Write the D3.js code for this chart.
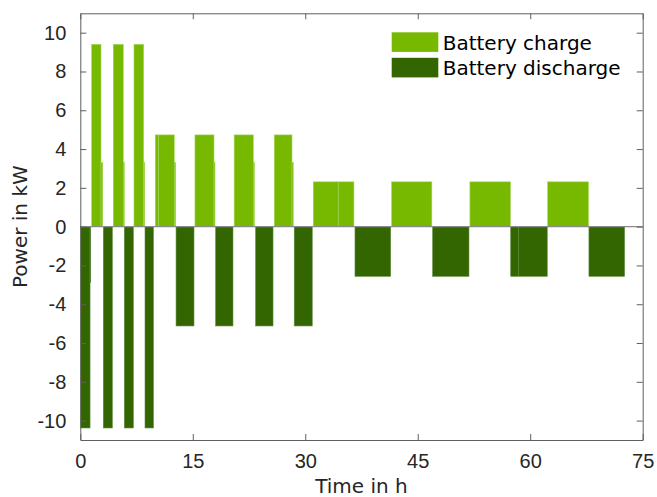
<!DOCTYPE html>
<html>
<head>
<meta charset="utf-8">
<script src="https://cdn.jsdelivr.net/npm/d3@7"></script>
<style>
  body { margin: 0; background: #fff; }
  svg { display: block; font-family: "DejaVu Sans", sans-serif; }
</style>
</head>
<body>
<svg id="chart" width="657" height="497"></svg>
<script>
// step segments: [start h, end h, kW]
const chargeSteps = [
    [1.52, 2.76, 9.4], [2.76, 2.99, 3.3],
    [4.4, 5.73, 9.4], [5.73, 5.87, 3.3],
    [7.16, 8.45, 9.4], [8.45, 8.59, 3.3],
    [10.0, 10.45, 4.73], [10.45, 12.53, 4.73], [12.53, 12.72, 3.3],
    [15.29, 17.83, 4.73], [17.83, 17.96, 3.3],
    [20.52, 23.07, 4.73], [23.07, 23.22, 3.3],
    [25.87, 28.23, 4.73], [28.23, 28.4, 3.3],
    [31.07, 34.4, 2.31], [34.4, 36.49, 2.31],
    [41.52, 46.88, 2.31],
    [51.96, 57.36, 2.31],
    [62.33, 67.77, 2.31]
];
const dischargeSteps = [
    [0.05, 1.3, -10.38], [1.3, 1.39, -2.87],
    [3.07, 4.27, -10.38],
    [5.87, 7.07, -10.38],
    [8.63, 9.75, -10.38],
    [12.77, 15.16, -5.12],
    [18.05, 20.36, -5.12],
    [23.38, 25.7, -5.12],
    [28.53, 30.93, -5.12],
    [36.63, 41.39, -2.56],
    [46.99, 51.83, -2.56],
    [57.4, 58.43, -2.56], [58.43, 62.27, -2.56],
    [67.83, 72.58, -2.56]
];
const seriesNames = ["Battery charge", "Battery discharge"];
const xTicks = [0, 15, 30, 45, 60, 75];
const yTicks = [-10, -8, -6, -4, -2, 0, 2, 4, 6, 8, 10];

const colours = { charge: "#77b800", discharge: "#336600" };
const edges = { charge: "#a3d65a", discharge: "#5b8a3c" };

const svg = d3.select("#chart");
const axisColour = "#5f5f5f";
const textColour = "#262626";

const x = d3.scaleLinear().domain([0, 75]).range([80.3, 642.7]);
const y = d3.scaleLinear().domain([-11, 11]).range([440, 13.3]);

const drawSteps = (steps, key) => {
    svg.append("g").selectAll("rect")
        .data(steps)
        .join("rect")
        .attr("x", d => x(d[0]))
        .attr("width", d => x(d[1]) - x(d[0]))
        .attr("y", d => y(Math.max(0, d[2])))
        .attr("height", d => Math.abs(y(d[2]) - y(0)))
        .attr("fill", colours[key])
        .attr("stroke", edges[key])
        .attr("stroke-width", 0.6);
};
drawSteps(chargeSteps, "charge");
drawSteps(dischargeSteps, "discharge");

// bar baseline
svg.append("line")
    .attr("x1", x(0)).attr("x2", x(75))
    .attr("y1", y(0)).attr("y2", y(0))
    .attr("stroke", "#8a8a8a")
    .attr("stroke-width", 1.2);

// axes with inward ticks, boxed
const tickLen = 6;
const styleAxis = (g) => {
    g.select(".domain").attr("stroke", axisColour);
    g.selectAll(".tick line").attr("stroke", axisColour);
    g.selectAll(".tick text").attr("fill", textColour).style("font-size", "20px");
};

svg.append("g")
    .attr("transform", `translate(0,${y(-11)})`)
    .call(d3.axisBottom(x).tickValues(xTicks).tickSizeInner(-tickLen).tickSizeOuter(0).tickPadding(14))
    .call(styleAxis)
    .call(g => g.selectAll(".tick text").attr("dy", "0.71em"));

svg.append("g")
    .attr("transform", `translate(0,${y(11)})`)
    .call(d3.axisTop(x).tickValues(xTicks).tickSizeInner(-tickLen).tickSizeOuter(0).tickFormat(""))
    .call(styleAxis);

svg.append("g")
    .attr("transform", `translate(${x(0)},0)`)
    .call(d3.axisLeft(y).tickValues(yTicks).tickSizeInner(-tickLen).tickSizeOuter(0).tickPadding(14)
        .tickFormat(d => String(d)))
    .call(styleAxis);

svg.append("g")
    .attr("transform", `translate(${x(75)},0)`)
    .call(d3.axisRight(y).tickValues(yTicks).tickSizeInner(-tickLen).tickSizeOuter(0).tickFormat(""))
    .call(styleAxis);

// axis titles
svg.append("text")
    .attr("x", (x(0) + x(75)) / 2)
    .attr("y", 492.5)
    .attr("text-anchor", "middle")
    .attr("fill", textColour)
    .style("font-size", "20px")
    .text("Time in h");

svg.append("text")
    .attr("transform", `translate(27,${y(0)}) rotate(-90)`)
    .attr("text-anchor", "middle")
    .attr("fill", textColour)
    .style("font-size", "20px")
    .text("Power in kW");

// legend
const legend = svg.append("g").attr("transform", "translate(391.7,32.3)");
const legendItems = legend.selectAll("g")
    .data(seriesNames)
    .join("g")
    .attr("transform", (d, i) => `translate(0,${i * 25.5})`);
legendItems.append("rect")
    .attr("width", 46.6)
    .attr("height", 19.6)
    .attr("fill", (d, i) => i === 0 ? colours.charge : colours.discharge);
legendItems.append("text")
    .attr("x", 51)
    .attr("y", 17.6)
    .attr("fill", "#000")
    .style("font-size", "20px")
    .text(d => d);
</script>
</body>
</html>
